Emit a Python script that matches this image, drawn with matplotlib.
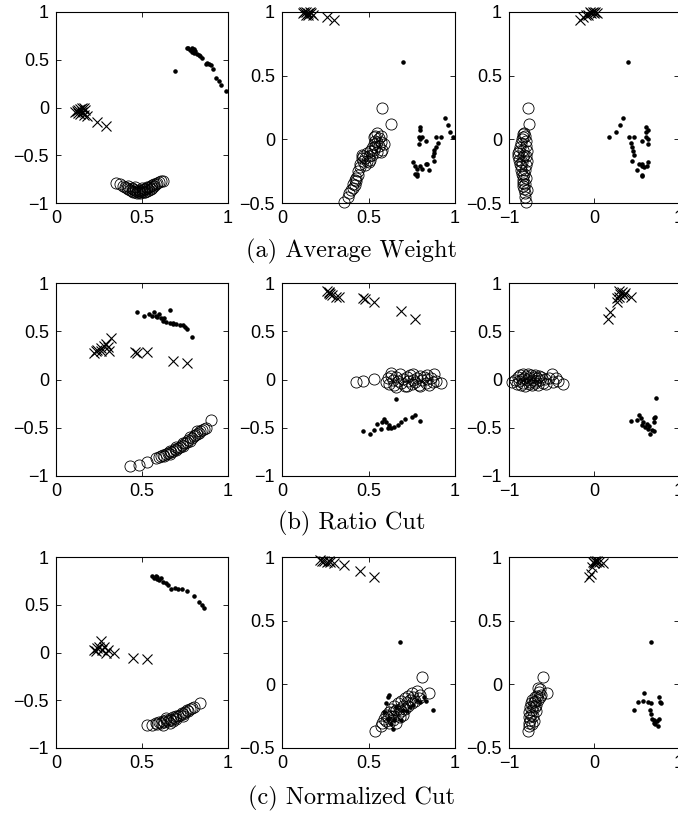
import matplotlib
matplotlib.use("Agg")
import matplotlib.pyplot as plt
from matplotlib.ticker import FuncFormatter

plt.rcParams['font.family'] = ['Liberation Sans', 'DejaVu Sans']

# ---- data: (x, y) pairs ----
# (a) Average Weight
a1_x = [(0.12, -0.04), (0.13, -0.06), (0.14, -0.02), (0.15, 0.00), (0.15, -0.05), (0.16, -0.08),
        (0.17, -0.03), (0.14, -0.07), (0.13, -0.03), (0.18, -0.09), (0.16, -0.01), (0.11, -0.05),
        (0.24, -0.15), (0.29, -0.19)]
a1_o = [(0.35, -0.79), (0.37, -0.80), (0.39, -0.82), (0.40, -0.83), (0.41, -0.84), (0.42, -0.85),
        (0.43, -0.86), (0.44, -0.87), (0.44, -0.84), (0.45, -0.88), (0.45, -0.85), (0.46, -0.89),
        (0.46, -0.86), (0.47, -0.90), (0.47, -0.87), (0.48, -0.89), (0.48, -0.86), (0.49, -0.90),
        (0.49, -0.87), (0.50, -0.89), (0.50, -0.86), (0.51, -0.88), (0.51, -0.85), (0.52, -0.88),
        (0.52, -0.85), (0.53, -0.87), (0.53, -0.84), (0.54, -0.86), (0.54, -0.83), (0.55, -0.85),
        (0.55, -0.82), (0.56, -0.84), (0.56, -0.81), (0.57, -0.82), (0.58, -0.80), (0.59, -0.79),
        (0.60, -0.78), (0.61, -0.77), (0.62, -0.77), (0.42, -0.82), (0.46, -0.83), (0.50, -0.84),
        (0.53, -0.83), (0.57, -0.80)]
a1_d = [(0.69, 0.38), (0.76, 0.62), (0.77, 0.62), (0.78, 0.60), (0.79, 0.58), (0.79, 0.62),
        (0.80, 0.61), (0.80, 0.57), (0.81, 0.59), (0.82, 0.56), (0.83, 0.55), (0.84, 0.54),
        (0.85, 0.52), (0.87, 0.46), (0.88, 0.47), (0.89, 0.46), (0.90, 0.45), (0.91, 0.40),
        (0.93, 0.31), (0.95, 0.28), (0.96, 0.24), (0.99, 0.17)]

a2_x = [(0.12, 0.99), (0.13, 1.00), (0.14, 0.98), (0.15, 0.99), (0.16, 1.00), (0.17, 0.99),
        (0.18, 0.98), (0.15, 0.98), (0.14, 1.00), (0.26, 0.96), (0.30, 0.94)]
a2_o = [(0.36, -0.49), (0.38, -0.45), (0.39, -0.42), (0.40, -0.40), (0.41, -0.38), (0.41, -0.35),
        (0.42, -0.36), (0.42, -0.32), (0.43, -0.30), (0.43, -0.33), (0.44, -0.28), (0.44, -0.25),
        (0.45, -0.22), (0.45, -0.19), (0.46, -0.15), (0.46, -0.12), (0.47, -0.17), (0.47, -0.13),
        (0.48, -0.20), (0.48, -0.15), (0.49, -0.11), (0.49, -0.17), (0.50, -0.13), (0.50, -0.18),
        (0.51, -0.16), (0.51, -0.09), (0.52, -0.07), (0.52, -0.12), (0.53, -0.04), (0.53, -0.08),
        (0.54, -0.01), (0.54, -0.06), (0.54, 0.03), (0.55, 0.05), (0.55, -0.02), (0.55, -0.10),
        (0.56, 0.01), (0.56, -0.05), (0.57, -0.02), (0.57, 0.03), (0.58, -0.08), (0.59, -0.04),
        (0.58, 0.25), (0.63, 0.12), (0.53, 0.02), (0.57, -0.10)]
a2_d = [(0.70, 0.61), (0.94, 0.17), (0.96, 0.11), (0.97, 0.06), (0.99, 0.02), (0.92, 0.02),
        (0.89, 0.02), (0.90, -0.03), (0.89, -0.06), (0.88, -0.08), (0.88, -0.11), (0.87, -0.13),
        (0.88, -0.17), (0.80, 0.10), (0.80, 0.07), (0.79, 0.02), (0.81, 0.02), (0.80, 0.00),
        (0.79, -0.04), (0.83, -0.01), (0.76, -0.18), (0.77, -0.21), (0.78, -0.23), (0.80, -0.21),
        (0.83, -0.19), (0.84, -0.19), (0.85, -0.24), (0.78, -0.27), (0.78, -0.29), (0.77, -0.27),
        (0.81, -0.23)]

a3_x = [(-0.17, 0.94), (-0.13, 0.96), (-0.09, 0.98), (-0.05, 1.00), (-0.03, 0.99), (-0.01, 1.00),
        (0.01, 1.00), (0.03, 0.99), (-0.07, 0.98), (0.00, 0.99)]
a3_o = [(-0.80, -0.49), (-0.81, -0.45), (-0.81, -0.42), (-0.82, -0.39), (-0.83, -0.37), (-0.83, -0.34),
        (-0.84, -0.32), (-0.84, -0.29), (-0.85, -0.27), (-0.86, -0.24), (-0.86, -0.21), (-0.87, -0.19),
        (-0.88, -0.16), (-0.89, -0.13), (-0.90, -0.11), (-0.88, -0.09), (-0.87, -0.06), (-0.86, -0.03),
        (-0.85, 0.00), (-0.84, 0.02), (-0.83, 0.04), (-0.82, 0.05), (-0.81, 0.03), (-0.80, -0.01),
        (-0.80, -0.05), (-0.79, -0.09), (-0.80, -0.13), (-0.79, -0.17), (-0.80, -0.20), (-0.81, -0.24),
        (-0.82, -0.27), (-0.80, -0.30), (-0.81, -0.35), (-0.79, -0.40), (-0.84, -0.14), (-0.83, -0.08),
        (-0.85, -0.18), (-0.82, -0.12), (-0.78, 0.25), (-0.77, 0.12)]
a3_d = [(0.40, 0.61), (0.18, 0.02), (0.26, 0.06), (0.31, 0.11), (0.34, 0.17), (0.41, 0.02),
        (0.47, 0.02), (0.44, -0.03), (0.45, -0.06), (0.46, -0.09), (0.47, -0.12), (0.45, -0.17),
        (0.50, -0.24), (0.53, -0.19), (0.56, -0.19), (0.57, -0.21), (0.56, -0.28), (0.57, -0.29),
        (0.59, -0.22), (0.62, -0.21), (0.63, -0.18), (0.61, 0.10), (0.63, 0.07), (0.61, 0.02),
        (0.63, 0.00), (0.57, -0.01), (0.63, -0.04), (0.61, 0.06)]

# (b) Ratio Cut
b1_x = [(0.22, 0.27), (0.23, 0.30), (0.24, 0.31), (0.26, 0.33), (0.28, 0.35), (0.29, 0.37),
        (0.32, 0.43), (0.31, 0.30), (0.30, 0.34), (0.26, 0.30), (0.46, 0.28), (0.47, 0.27),
        (0.53, 0.29), (0.68, 0.19), (0.76, 0.17)]
b1_o = [(0.43, -0.90), (0.48, -0.89), (0.53, -0.85), (0.58, -0.81), (0.60, -0.80), (0.61, -0.79),
        (0.62, -0.78), (0.63, -0.79), (0.64, -0.77), (0.65, -0.76), (0.66, -0.77), (0.67, -0.75),
        (0.68, -0.74), (0.69, -0.72), (0.70, -0.73), (0.71, -0.71), (0.72, -0.70), (0.73, -0.68),
        (0.74, -0.69), (0.75, -0.66), (0.76, -0.65), (0.77, -0.63), (0.78, -0.64), (0.79, -0.61),
        (0.80, -0.59), (0.81, -0.58), (0.82, -0.56), (0.83, -0.55), (0.84, -0.53), (0.85, -0.52),
        (0.86, -0.51), (0.87, -0.50), (0.90, -0.42), (0.66, -0.74), (0.70, -0.70), (0.74, -0.66),
        (0.78, -0.60), (0.82, -0.53)]
b1_d = [(0.47, 0.70), (0.51, 0.66), (0.54, 0.68), (0.57, 0.70), (0.58, 0.66), (0.60, 0.68),
        (0.61, 0.64), (0.63, 0.64), (0.66, 0.72), (0.66, 0.59), (0.68, 0.57), (0.70, 0.57),
        (0.72, 0.56), (0.75, 0.54), (0.76, 0.52), (0.79, 0.44), (0.62, 0.61), (0.64, 0.60),
        (0.56, 0.66), (0.59, 0.65), (0.68, 0.59), (0.74, 0.56)]

b2_x = [(0.26, 0.92), (0.27, 0.90), (0.28, 0.89), (0.29, 0.88), (0.31, 0.86), (0.33, 0.85),
        (0.27, 0.91), (0.47, 0.84), (0.48, 0.83), (0.53, 0.80), (0.69, 0.71), (0.77, 0.63)]
b2_o = [(0.43, -0.03), (0.47, -0.02), (0.53, 0.01), (0.60, -0.03), (0.61, 0.02), (0.62, -0.05),
        (0.63, 0.04), (0.64, -0.01), (0.65, -0.06), (0.66, 0.03), (0.67, -0.02), (0.68, 0.06),
        (0.69, -0.04), (0.70, 0.01), (0.71, -0.07), (0.72, 0.03), (0.73, -0.02), (0.74, 0.05),
        (0.75, -0.05), (0.76, 0.00), (0.77, -0.03), (0.78, 0.02), (0.79, -0.06), (0.80, 0.04),
        (0.81, -0.01), (0.82, 0.03), (0.83, -0.04), (0.84, 0.01), (0.85, -0.06), (0.86, 0.02),
        (0.87, -0.03), (0.88, 0.06), (0.89, -0.02), (0.92, -0.04), (0.66, -0.08), (0.72, -0.07),
        (0.80, -0.07), (0.84, 0.05), (0.63, 0.07), (0.76, 0.06)]
b2_d = [(0.66, -0.20), (0.47, -0.53), (0.51, -0.56), (0.53, -0.52), (0.55, -0.46), (0.57, -0.51),
        (0.59, -0.41), (0.60, -0.44), (0.61, -0.50), (0.63, -0.50), (0.65, -0.49), (0.67, -0.47),
        (0.69, -0.44), (0.71, -0.41), (0.75, -0.39), (0.77, -0.37), (0.80, -0.43), (0.62, -0.47),
        (0.58, -0.44)]

b3_x = [(0.17, 0.63), (0.19, 0.70), (0.27, 0.80), (0.29, 0.85), (0.31, 0.89), (0.33, 0.91),
        (0.35, 0.88), (0.37, 0.90), (0.43, 0.85), (0.29, 0.92), (0.27, 0.84)]
b3_o = [(-0.96, -0.03), (-0.93, 0.00), (-0.91, -0.05), (-0.90, 0.03), (-0.88, -0.02), (-0.87, 0.05),
        (-0.86, -0.06), (-0.85, 0.01), (-0.84, 0.06), (-0.83, -0.04), (-0.82, 0.02), (-0.81, -0.07),
        (-0.80, 0.04), (-0.79, -0.01), (-0.78, 0.06), (-0.77, -0.05), (-0.76, 0.02), (-0.75, -0.03),
        (-0.74, 0.05), (-0.73, -0.06), (-0.72, 0.00), (-0.71, 0.03), (-0.70, -0.04), (-0.69, 0.05),
        (-0.68, -0.02), (-0.67, 0.02), (-0.66, -0.06), (-0.65, 0.04), (-0.64, -0.01), (-0.62, 0.03),
        (-0.60, -0.04), (-0.58, 0.01), (-0.56, -0.05), (-0.53, 0.02), (-0.50, 0.06), (-0.48, -0.03),
        (-0.45, 0.02), (-0.42, -0.02), (-0.37, -0.05)]
b3_d = [(0.73, -0.19), (0.44, -0.43), (0.50, -0.42), (0.53, -0.37), (0.55, -0.40), (0.58, -0.44),
        (0.57, -0.47), (0.60, -0.49), (0.63, -0.51), (0.66, -0.56), (0.68, -0.52), (0.70, -0.53),
        (0.71, -0.44), (0.70, -0.40), (0.72, -0.39), (0.62, -0.46), (0.65, -0.48)]

# (c) Normalized Cut
c1_x = [(0.22, 0.03), (0.24, 0.05), (0.26, 0.12), (0.25, 0.06), (0.27, 0.03), (0.28, 0.06),
        (0.29, -0.01), (0.30, 0.03), (0.34, 0.00), (0.45, -0.06), (0.53, -0.07), (0.23, 0.02)]
c1_o = [(0.53, -0.76), (0.56, -0.76), (0.58, -0.74), (0.59, -0.75), (0.60, -0.73), (0.61, -0.74),
        (0.62, -0.72), (0.63, -0.73), (0.64, -0.71), (0.65, -0.72), (0.66, -0.70), (0.67, -0.71),
        (0.68, -0.68), (0.69, -0.69), (0.70, -0.67), (0.71, -0.66), (0.72, -0.65), (0.73, -0.63),
        (0.74, -0.64), (0.75, -0.62), (0.76, -0.60), (0.77, -0.61), (0.78, -0.59), (0.79, -0.58),
        (0.80, -0.57), (0.84, -0.53), (0.62, -0.76), (0.66, -0.74), (0.70, -0.70), (0.74, -0.66),
        (0.64, -0.69), (0.68, -0.72)]
c1_d = [(0.56, 0.80), (0.57, 0.78), (0.59, 0.77), (0.59, 0.79), (0.60, 0.76), (0.62, 0.74),
        (0.64, 0.73), (0.65, 0.71), (0.67, 0.67), (0.69, 0.68), (0.71, 0.67), (0.73, 0.66),
        (0.76, 0.64), (0.80, 0.59), (0.83, 0.53), (0.85, 0.50), (0.86, 0.47), (0.58, 0.80),
        (0.61, 0.78)]

c2_x = [(0.22, 0.98), (0.24, 0.97), (0.26, 0.96), (0.28, 0.96), (0.30, 0.95), (0.36, 0.94),
        (0.45, 0.89), (0.53, 0.84), (0.23, 0.97), (0.27, 0.97)]
c2_o = [(0.54, -0.37), (0.57, -0.33), (0.58, -0.30), (0.59, -0.27), (0.60, -0.29), (0.60, -0.24),
        (0.61, -0.26), (0.62, -0.22), (0.62, -0.30), (0.63, -0.25), (0.63, -0.19), (0.64, -0.28),
        (0.64, -0.22), (0.65, -0.17), (0.65, -0.25), (0.66, -0.20), (0.67, -0.23), (0.67, -0.15),
        (0.68, -0.19), (0.68, -0.26), (0.69, -0.13), (0.69, -0.21), (0.70, -0.17), (0.71, -0.11),
        (0.71, -0.19), (0.72, -0.14), (0.73, -0.17), (0.73, -0.09), (0.74, -0.12), (0.75, -0.15),
        (0.75, -0.07), (0.76, -0.10), (0.77, -0.13), (0.78, -0.05), (0.79, -0.11), (0.80, -0.08),
        (0.81, 0.06), (0.85, -0.07), (0.66, -0.30), (0.70, -0.24)]
c2_d = [(0.68, 0.33), (0.87, -0.20), (0.62, -0.08), (0.61, -0.10), (0.60, -0.15), (0.59, -0.22),
        (0.61, -0.27), (0.63, -0.31), (0.65, -0.28), (0.66, -0.18), (0.69, -0.28), (0.70, -0.20),
        (0.72, -0.21), (0.74, -0.18), (0.76, -0.16), (0.78, -0.12), (0.80, -0.14), (0.82, -0.10),
        (0.83, -0.13), (0.64, -0.35)]

c3_x = [(-0.06, 0.84), (-0.04, 0.87), (-0.02, 0.92), (0.00, 0.95), (0.02, 0.96), (0.04, 0.97),
        (0.06, 0.96), (0.10, 0.95), (0.01, 0.97), (-0.01, 0.96)]
c3_o = [(-0.78, -0.37), (-0.77, -0.33), (-0.76, -0.30), (-0.77, -0.26), (-0.75, -0.28), (-0.76, -0.22),
        (-0.74, -0.24), (-0.75, -0.18), (-0.73, -0.20), (-0.74, -0.15), (-0.72, -0.17), (-0.73, -0.12),
        (-0.71, -0.14), (-0.70, -0.18), (-0.72, -0.25), (-0.70, -0.10), (-0.69, -0.13), (-0.68, -0.16),
        (-0.67, -0.09), (-0.66, -0.12), (-0.65, -0.06), (-0.64, -0.10), (-0.63, -0.04), (-0.62, -0.08),
        (-0.60, 0.06), (-0.55, -0.07), (-0.68, -0.21), (-0.71, -0.29), (-0.66, -0.03), (-0.73, -0.31)]
c3_d = [(0.67, 0.33), (0.47, -0.20), (0.52, -0.14), (0.58, -0.13), (0.59, -0.07), (0.64, -0.14),
        (0.67, -0.15), (0.66, -0.20), (0.67, -0.23), (0.68, -0.27), (0.71, -0.28), (0.72, -0.31),
        (0.74, -0.29), (0.77, -0.27), (0.78, -0.14), (0.77, -0.10), (0.79, -0.15), (0.75, -0.33),
        (0.70, -0.30)]

panels = [[(a1_x, a1_o, a1_d), (a2_x, a2_o, a2_d), (a3_x, a3_o, a3_d)],
          [(b1_x, b1_o, b1_d), (b2_x, b2_o, b2_d), (b3_x, b3_o, b3_d)],
          [(c1_x, c1_o, c1_d), (c2_x, c2_o, c2_d), (c3_x, c3_o, c3_d)]]
xlims = [[(0, 1), (0, 1), (-1, 1)]] * 3
ylims = [[(-1, 1), (-0.5, 1), (-0.5, 1)],
         [(-1, 1), (-1, 1), (-1, 1)],
         [(-1, 1), (-0.5, 1), (-0.5, 1)]]
xticks = [[0, 0.5, 1], [0, 0.5, 1], [-1, 0, 1]]
captions = ["(a) Average Weight", "(b) Ratio Cut", "(c) Normalized Cut"]

# ---- layout (pixel boxes) ----
W, H = 678, 814
col_left = [56, 282, 509]
col_w = [172, 173, 170]
row_top = [12, 283, 557]
row_h = [191, 193, 191]
cap_base = [257, 529, 804]


def fmt(v, pos):
    s = "%g" % v
    return s.replace("-", "\u2212")


fig = plt.figure(figsize=(W / 100, H / 100), dpi=100)

for r in range(3):
    for c in range(3):
        ax = fig.add_axes([col_left[c] / W, 1 - (row_top[r] + row_h[r]) / H,
                           col_w[c] / W, row_h[r] / H])
        xs, os_, ds = panels[r][c]
        ax.plot([p[0] for p in xs], [p[1] for p in xs], 'x', color='k',
                ms=7, mew=0.8, clip_on=False)
        ax.plot([p[0] for p in os_], [p[1] for p in os_], 'o', mfc='none', mec='k',
                ms=8, mew=0.6, clip_on=False)
        ax.plot([p[0] for p in ds], [p[1] for p in ds], '.', color='k', ms=4.5)
        ax.set_xlim(*xlims[r][c])
        ax.set_ylim(*ylims[r][c])
        ax.set_xticks(xticks[c])
        yl = ylims[r][c]
        ax.set_yticks([t for t in [-1, -0.5, 0, 0.5, 1] if yl[0] <= t <= yl[1]])
        ax.xaxis.set_major_formatter(FuncFormatter(fmt))
        ax.yaxis.set_major_formatter(FuncFormatter(fmt))
        ax.tick_params(direction='in', top=True, right=True, length=3.5, width=0.6,
                       labelsize=13, pad=5)
        for sp in ax.spines.values():
            sp.set_linewidth(0.8)
    fig.text(352 / W, 1 - cap_base[r] / H, captions[r], fontfamily='cmr10',
             fontsize=17.5, ha='center', va='baseline')

fig.savefig("out.png", dpi=100)
